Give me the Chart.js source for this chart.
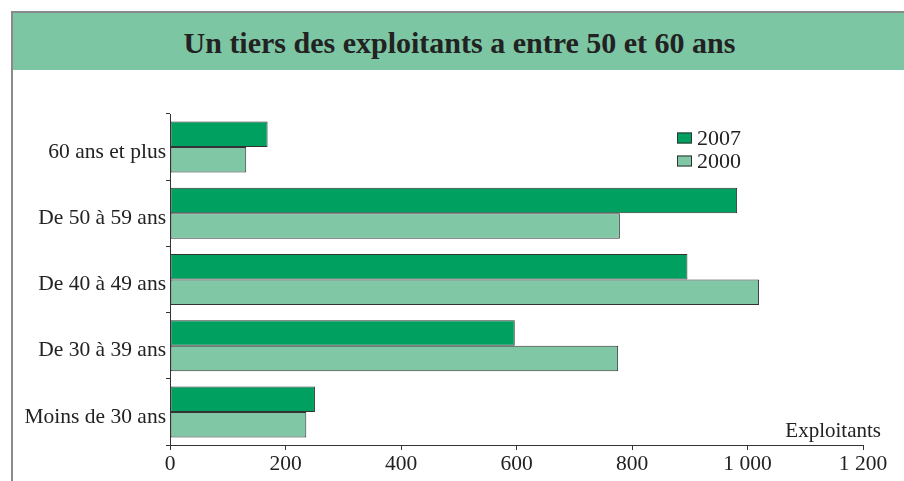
<!DOCTYPE html>
<html>
<head>
<meta charset="utf-8">
<script src="https://cdn.jsdelivr.net/npm/chart.js@4/dist/chart.umd.min.js"></script>
<style>
  html, body { margin: 0; padding: 0; background: #fff; }
  #frame {
    position: absolute; left: 11px; top: 11px; width: 893px; height: 470px;
    border-left: 2px solid #8a8a8a; border-top: 2px solid #8a8a8a;
  }
  #band {
    height: 57px; background: #7dc6a4;
    font-family: "Liberation Serif", serif; font-weight: bold; font-size: 30px;
    color: #222; text-align: center; line-height: 60px;
  }
  #wrap { position: absolute; left: 0; top: 0; width: 904px; height: 481px; }
</style>
</head>
<body>
<div id="frame"><div id="band">Un tiers des exploitants a entre 50 et 60 ans</div></div>
<div id="wrap"><canvas id="chart" width="904" height="481"></canvas></div>
<script>
const categories = ["60 ans et plus", "De 50 à 59 ans", "De 40 à 49 ans", "De 30 à 39 ans", "Moins de 30 ans"];
const values2007 = [169, 982, 896, 597, 251];
const values2000 = [132, 779, 1020, 776, 236];
const seriesLabels = ["2007", "2000"];
const xTicks = [0, 200, 400, 600, 800, 1000, 1200];
const unitLabel = "Exploitants";

const serif = "'Liberation Serif', 'Times New Roman', serif";
const darkGreen = "#00a060";
const lightGreen = "#7fc7a5";
const edge = "#333333";

// legende et libellé d'unité dessinés à la main
const extras = {
  id: "extras",
  afterDraw(chart) {
    const ctx = chart.ctx;
    const area = chart.chartArea;
    ctx.save();
    ctx.fillStyle = "#222";
    ctx.textBaseline = "middle";
    // unité au bout de l'axe
    ctx.font = "21px " + serif;
    ctx.textAlign = "right";
    ctx.fillText(unitLabel, area.right + 18, area.bottom - 14);
    // legende
    ctx.font = "22px " + serif;
    ctx.textAlign = "left";
    const lx = area.left + 507, ly = area.top + 24;
    chart.data.datasets.forEach((ds, i) => {
      const y = ly + i * 23;
      ctx.fillStyle = ds.backgroundColor;
      ctx.fillRect(lx, y - 5.5, 15, 11);
      ctx.strokeStyle = edge;
      ctx.lineWidth = 1;
      ctx.strokeRect(lx + 0.5, y - 5, 14, 10);
      ctx.fillStyle = "#222";
      ctx.fillText(ds.label, lx + 20, y + 1);
    });
    ctx.restore();
  }
};

window.onload = () => {
  const ctx = document.getElementById("chart").getContext("2d");
  new Chart(ctx, {
    type: "bar",
    data: {
      labels: categories,
      datasets: [
        { label: seriesLabels[0], data: values2007, backgroundColor: darkGreen, borderColor: edge, borderWidth: 1, borderSkipped: false },
        { label: seriesLabels[1], data: values2000, backgroundColor: lightGreen, borderColor: edge, borderWidth: 1, borderSkipped: false }
      ]
    },
    plugins: [extras],
    options: {
      indexAxis: "y",
      responsive: false,
      animation: false,
      categoryPercentage: 0.77,
      barPercentage: 1,
      layout: { padding: { top: 114, right: 41, left: 0, bottom: 0 } },
      plugins: { legend: { display: false }, tooltip: { enabled: false }, title: { display: false } },
      scales: {
        x: {
          min: 0, max: 1200,
          afterFit: s => { s.height = 36; },
          afterBuildTicks: s => { s.ticks = xTicks.map(v => ({ value: v })); },
          grid: { drawOnChartArea: false, drawTicks: true, tickLength: 5, color: edge },
          border: { color: edge, width: 1 },
          ticks: {
            color: "#222", padding: 1,
            font: { family: serif, size: 21.5 },
            callback: v => v >= 1000 ? String(v).replace(/(\d)(\d{3})$/, "$1 $2") : String(v)
          }
        },
        y: {
          afterFit: s => { s.width = 170; },
          grid: { drawOnChartArea: false, drawTicks: true, tickLength: 4, color: edge, offset: true },
          border: { color: edge, width: 1 },
          ticks: { color: "#222", padding: 0, labelOffset: 5, font: { family: serif, size: 21.5 } }
        }
      }
    }
  });
};
</script>
</body>
</html>
